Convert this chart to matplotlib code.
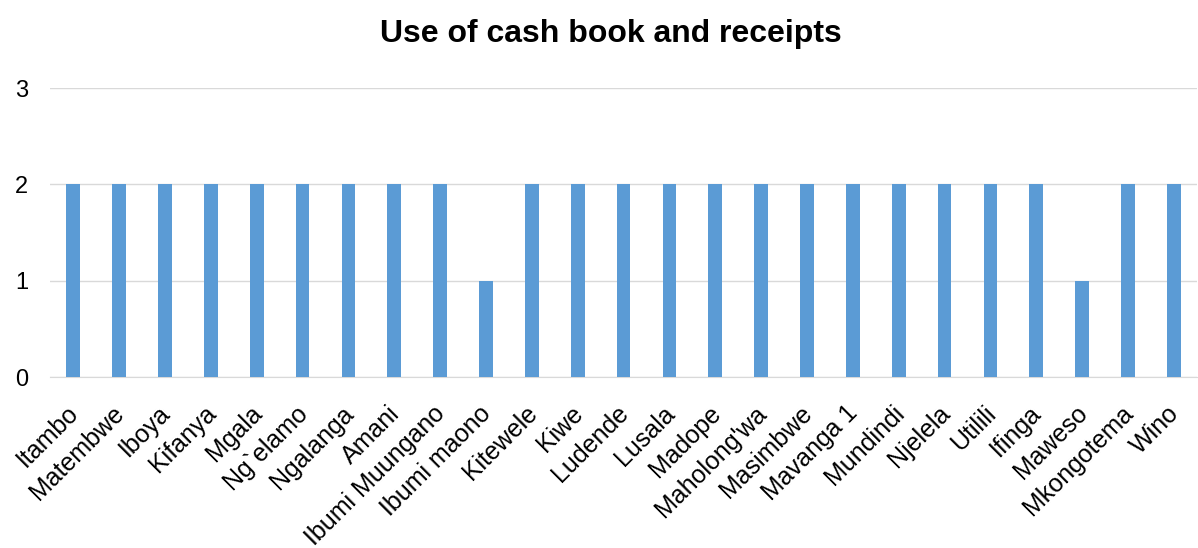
import matplotlib
matplotlib.use('Agg')
import matplotlib.pyplot as plt
import matplotlib.transforms as mtransforms
import numpy as np

plt.rcParams['font.family'] = ['Liberation Sans', 'DejaVu Sans']

villages = ['Itambo', 'Matembwe', 'Iboya', 'Kifanya', 'Mgala', 'Ng`elamo', 'Ngalanga',
            'Amani', 'Ibumi Muungano', 'Ibumi maono', 'Kitewele', 'Kiwe', 'Ludende',
            'Lusala', 'Madope', "Maholong'wa", 'Masimbwe', 'Mavanga 1', 'Mundindi',
            'Njelela', 'Utilili', 'Ifinga', 'Maweso', 'Mkongotema', 'Wino']
scores = [2, 2, 2, 2, 2, 2, 2, 2, 2, 1, 2, 2, 2, 2, 2, 2, 2, 2, 2, 2, 2, 2, 1, 2, 2]

fig = plt.figure(figsize=(11.98, 5.48), dpi=100)
ax = fig.add_axes([0.042, 0.312, 0.957, 0.527])

x = np.arange(len(villages))
ax.bar(x, scores, width=0.3, color='#5b9bd5', zorder=3)
ax.set_xlim(-0.5, len(villages) - 0.5)
ax.set_ylim(0, 3)
ax.set_yticks([0, 1, 2, 3])
ax.grid(True, axis='y', color='#d9d9d9', lw=1, zorder=0)
for s in ['top', 'right', 'left']:
    ax.spines[s].set_visible(False)
ax.spines['bottom'].set_color('#d9d9d9')
ax.tick_params(axis='both', length=0, colors='black')
ax.tick_params(axis='y', pad=16, labelsize=17)
ax.tick_params(axis='x', pad=8, labelsize=18)
ax.set_xticks(x)
ax.set_xticklabels(villages, rotation=45, ha='right', va='top', rotation_mode='anchor')

# nudge rotated labels down/left like Excel places them
shift = mtransforms.ScaledTranslation(-0.07, -0.13, fig.dpi_scale_trans)
for lbl in ax.get_xticklabels():
    lbl.set_transform(lbl.get_transform() + shift)

ax.set_title('Use of cash book and receipts', fontsize=23, fontweight='bold',
             pad=33, x=0.489)

fig.savefig('out.png', dpi=100)
